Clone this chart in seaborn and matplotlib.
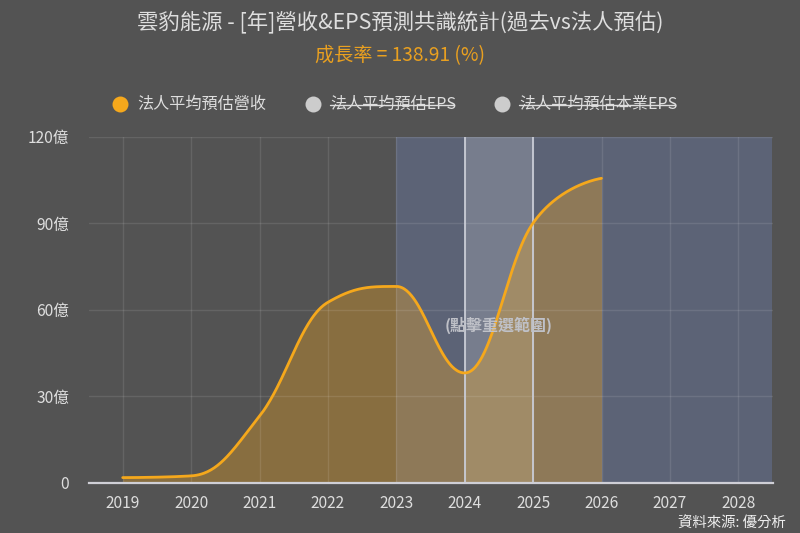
import numpy as np
import matplotlib.pyplot as plt
from matplotlib.lines import Line2D
import seaborn as sns

# 資料 (億)
YEARS = [2019, 2020, 2021, 2022, 2023, 2024, 2025, 2026]
REVENUE = [1.7, 2.3, 23, 62.5, 68, 38, 90, 105.5]
X_TICKS = [2019, 2020, 2021, 2022, 2023, 2024, 2025, 2026, 2027, 2028]
Y_TICKS = [0, 30, 60, 90, 120]
Y_LABELS = ["0", "30億", "60億", "90億", "120億"]
LEGEND_LABELS = ["法人平均預估營收", "法人平均預估EPS", "法人平均預估本業EPS"]

BG = "#535353"
TEXT = "#dedede"
ORANGE = "#f5a81c"
FONT = ["Noto Sans CJK TC", "DejaVu Sans"]
W, H = 800, 533


def smooth_curve(x, y, n=60):
    # spline 曲線的控制點, 只用來畫平滑線 (資料點不變)
    k = len(x)
    left = [0.0] * k
    right = [0.0] * k
    left[-1] = y[-1]
    right[0] = y[0]
    for i in range(1, k - 1):
        half = 0.2 * (y[i + 1] - y[i - 1])
        lo, hi = y[i] - half, y[i] + half
        # 控制點不可超出相鄰資料點
        if lo > max(y[i - 1], y[i]) or lo < min(y[i - 1], y[i]):
            lo = max(y[i - 1], y[i]) if lo > y[i] else min(y[i - 1], y[i])
            hi = 2 * y[i] - lo
        if hi > max(y[i + 1], y[i]) or hi < min(y[i + 1], y[i]):
            hi = max(y[i + 1], y[i]) if hi > y[i] else min(y[i + 1], y[i])
            lo = 2 * y[i] - hi
        left[i], right[i] = lo, hi
    xs, ys = [], []
    t = np.linspace(0, 1, n)
    for i in range(k - 1):
        h = x[i + 1] - x[i]
        cx1 = x[i] + (0 if i == 0 else 0.4 * h)
        cx2 = x[i + 1] - (0 if i == k - 2 else 0.4 * h)
        b0, b1, b2, b3 = (1 - t) ** 3, 3 * t * (1 - t) ** 2, 3 * t**2 * (1 - t), t**3
        xs.append(b0 * x[i] + b1 * cx1 + b2 * cx2 + b3 * x[i + 1])
        ys.append(b0 * y[i] + b1 * right[i] + b2 * left[i + 1] + b3 * y[i + 1])
    return np.concatenate(xs), np.concatenate(ys)


sns.set_theme(style="dark")
plt.rcParams["font.family"] = FONT
plt.rcParams["axes.unicode_minus"] = False

fig = plt.figure(figsize=(8, 5.33), dpi=100, facecolor=BG)
ax = fig.add_axes([88.5 / W, 1 - 482.5 / H, (772.5 - 88.5) / W, (482.5 - 136.5) / H], facecolor=BG)

# 預估區間與選取範圍
ax.axvspan(2023, 2028.5, color="#5d6479", alpha=0.95, lw=0, zorder=1)
ax.axvspan(2024, 2025, color="#ffffff", alpha=0.17, lw=0, zorder=1.5)
for edge in [2024, 2025]:
    ax.axvline(edge, color="#c9ccd6", lw=1.3, zorder=4)

xs, ys = smooth_curve(YEARS, REVENUE)
ax.fill_between(xs, 0, ys, color=ORANGE, alpha=0.33, lw=0, zorder=2)
sns.lineplot(x=xs, y=ys, ax=ax, color=ORANGE, linewidth=2.0, zorder=5, errorbar=None, sort=False)

ax.set_xlim(2018.5, 2028.5)
ax.set_ylim(0, 120)
ax.set_xticks(X_TICKS)
ax.set_yticks(Y_TICKS)
ax.set_yticklabels(Y_LABELS)
ax.tick_params(axis="both", length=0, labelsize=11.2, labelcolor=TEXT)
ax.tick_params(axis="x", pad=9)
ax.tick_params(axis="y", pad=14)
ax.grid(True, color="#ffffff", alpha=0.1, lw=1, zorder=1.8)
ax.set_axisbelow(False)
for name in ["top", "right", "left"]:
    ax.spines[name].set_visible(False)
ax.spines["bottom"].set_color("#cfcfd6")
ax.spines["bottom"].set_linewidth(1.6)
ax.spines["bottom"].set_zorder(6)

ax.text(2024.5, 54.5, "(點擊重選範圍)", ha="center", va="center", fontsize=11.5,
        fontweight="bold", color="#bfc1c8", zorder=6)

fig.text(400 / W, 1 - 22 / H, "雲豹能源 - [年]營收&EPS預測共識統計(過去vs法人預估)",
         ha="center", va="center", fontsize=15.4, color=TEXT)
fig.text(400 / W, 1 - 56 / H, "成長率 = 138.91 (%)", ha="center", va="center",
         fontsize=13.8, color="#e9a020")
fig.text(786 / W, 1 - 524 / H, "資料來源: 優分析", ha="right", va="center",
         fontsize=10.4, color="#eeeeee")

# 圖例
legend_x = [120, 313, 502]
legend_colors = [ORANGE, "#cccccc", "#cccccc"]
strike_ends = [None, 454, 675]
for i, label in enumerate(LEGEND_LABELS):
    fig.add_artist(Line2D([legend_x[i] / W], [1 - 104 / H], marker="o", ms=11.5, color=legend_colors[i],
                          mew=0, transform=fig.transFigure))
    fig.text((legend_x[i] + 17) / W, 1 - 104 / H, label, ha="left", va="center",
             fontsize=11.6, color=TEXT)
    if strike_ends[i]:
        fig.add_artist(Line2D([(legend_x[i] + 17) / W, strike_ends[i] / W], [1 - 105 / H] * 2,
                              color=TEXT, lw=1, transform=fig.transFigure))

fig.savefig("out.png", dpi=100, facecolor=BG)
